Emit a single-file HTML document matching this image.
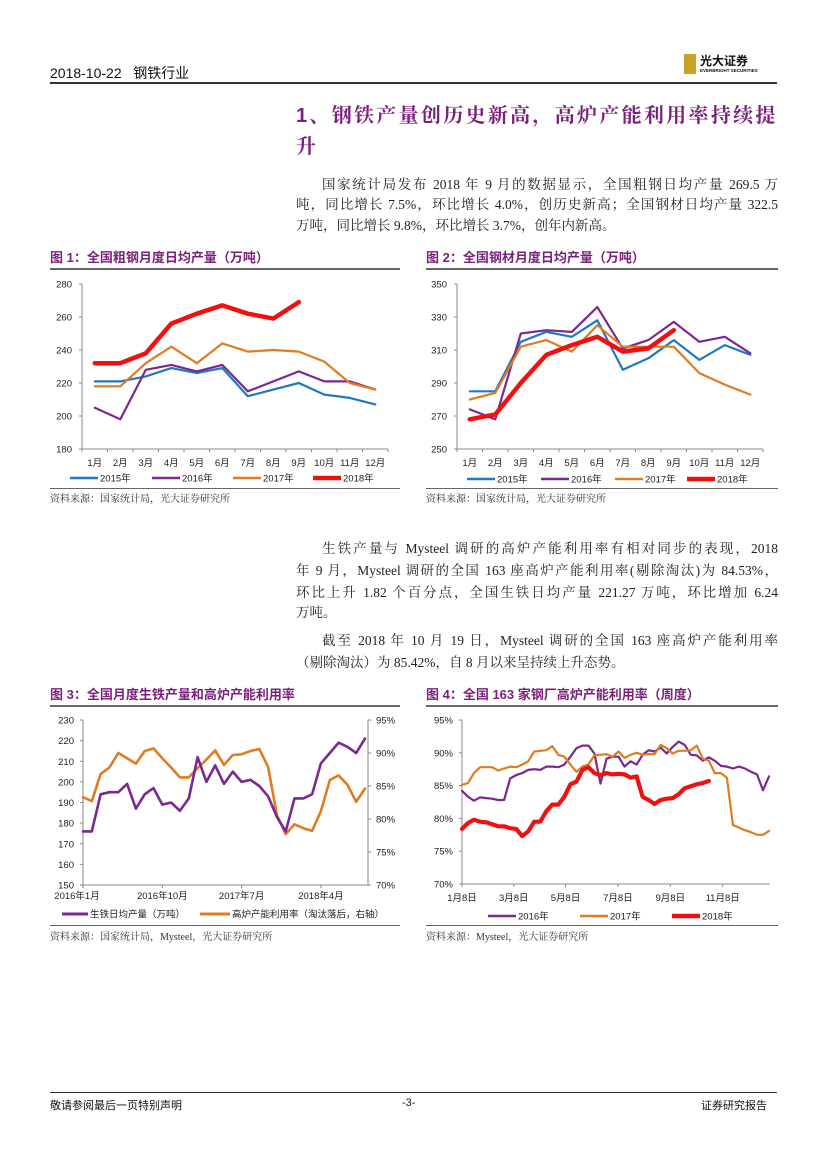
<!DOCTYPE html>
<html><head><meta charset="utf-8">
<style>
body{margin:0;background:#fff;}
#page{position:relative;width:827px;height:1169px;overflow:hidden;font-family:"Liberation Sans","Noto Sans CJK SC",sans-serif;color:#111;}
.abs{position:absolute;white-space:nowrap;}
.ln{position:absolute;left:296px;width:482px;font-family:"Liberation Serif","Noto Serif CJK SC",serif;font-size:13.5px;line-height:20px;color:#222;white-space:nowrap;text-align:justify;text-align-last:justify;}
.ln.last{text-align-last:left;}
.ln.ind{left:322px;width:456px;}
.ft{position:absolute;font-size:13px;font-weight:bold;color:#7a1f7a;font-family:"Liberation Sans","Noto Sans CJK SC",sans-serif;}
.src{position:absolute;font-size:10px;color:#333;font-family:"Liberation Serif","Noto Serif CJK SC",serif;}
.hl{position:absolute;height:2px;background:#666;}
svg text{font-family:"Liberation Sans","Noto Sans CJK SC",sans-serif;font-size:9.5px;fill:#222;}
</style></head><body>
<div id="page">
<div class="abs" style="left:50px;top:63px;font-size:14px;">2018-10-22&nbsp;&nbsp;&nbsp;钢铁行业</div>
<div style="position:absolute;left:684px;top:54px;width:12px;height:20px;background:#c9a227;"></div>
<div class="abs" style="left:700px;top:52px;font-size:12px;font-weight:bold;">光大证券</div>
<div class="abs" style="left:700px;top:68px;font-size:4.5px;font-weight:bold;">EVERBRIGHT SECURITIES</div>
<div style="position:absolute;left:50px;top:82px;width:727px;height:2px;background:#333;"></div>

<div class="abs" style="left:296px;top:101px;font-size:20px;font-weight:bold;color:#7a1f7a;line-height:31px;letter-spacing:2.3px;font-family:'Liberation Sans','Noto Serif CJK SC',serif;">1、钢铁产量创历史新高，高炉产能利用率持续提<br>升</div>

<div>
<div class="ln ind" style="top:175px;">国家统计局发布 2018 年 9 月的数据显示，全国粗钢日均产量 269.5 万</div>
<div class="ln" style="top:195px;">吨，同比增长 7.5%，环比增长 4.0%，创历史新高；全国钢材日均产量 322.5</div>
<div class="ln last" style="top:216px;">万吨，同比增长 9.8%，环比增长 3.7%，创年内新高。</div>
</div>

<div class="ft" style="left:50px;top:247px;">图 1：全国粗钢月度日均产量（万吨）</div>
<div class="ft" style="left:426px;top:247px;">图 2：全国钢材月度日均产量（万吨）</div>
<div class="hl" style="left:50px;top:268px;width:350px;"></div>
<div class="hl" style="left:426px;top:268px;width:352px;"></div>
<svg id="c1" style="position:absolute;left:0;top:0" width="827" height="1169"></svg>
<div class="hl" style="left:50px;top:488px;width:350px;height:1px;"></div>
<div class="hl" style="left:426px;top:488px;width:352px;height:1px;"></div>
<div class="src" style="left:50px;top:490px;">资料来源：国家统计局，光大证券研究所</div>
<div class="src" style="left:426px;top:490px;">资料来源：国家统计局，光大证券研究所</div>

<div>
<div class="ln ind" style="top:539px;">生铁产量与 Mysteel 调研的高炉产能利用率有相对同步的表现，2018</div>
<div class="ln" style="top:561px;">年 9 月，Mysteel 调研的全国 163 座高炉产能利用率(剔除淘汰)为 84.53%，</div>
<div class="ln" style="top:583px;">环比上升 1.82 个百分点，全国生铁日均产量 221.27 万吨，环比增加 6.24</div>
<div class="ln last" style="top:603px;">万吨。</div>
</div>
<div>
<div class="ln ind" style="top:631px;">截至 2018 年 10 月 19 日，Mysteel 调研的全国 163 座高炉产能利用率</div>
<div class="ln last" style="top:653px;">（剔除淘汰）为 85.42%，自 8 月以来呈持续上升态势。</div>
</div>

<div class="ft" style="left:50px;top:684px;">图 3：全国月度生铁产量和高炉产能利用率</div>
<div class="ft" style="left:426px;top:684px;">图 4：全国 163 家钢厂高炉产能利用率（周度）</div>
<div class="hl" style="left:50px;top:705px;width:350px;"></div>
<div class="hl" style="left:426px;top:705px;width:352px;"></div>
<div class="hl" style="left:50px;top:925px;width:350px;height:1px;"></div>
<div class="hl" style="left:426px;top:925px;width:352px;height:1px;"></div>
<div class="src" style="left:50px;top:928px;">资料来源：国家统计局，Mysteel，光大证券研究所</div>
<div class="src" style="left:426px;top:928px;">资料来源：Mysteel，光大证券研究所</div>

<div style="position:absolute;left:50px;top:1092px;width:727px;height:1px;background:#333;"></div>
<div class="abs" style="left:50px;top:1097px;font-size:11px;">敬请参阅最后一页特别声明</div>
<div class="abs" style="left:402px;top:1097px;font-size:11px;">-3-</div>
<div class="abs" style="left:701px;top:1097px;font-size:11px;">证券研究报告</div>
</div>
<script>
const months=["1月","2月","3月","4月","5月","6月","7月","8月","9月","10月","11月","12月"];
const c1Ticks=[180,200,220,240,260,280];
const c1s2015=[221,221,224,229,226,229,212,216,220,213,211,207];
const c1s2016=[205,198,228,231,227,231,215,221,227,221,221,216];
const c1s2017=[218,218,232,242,232,244,239,240,239,233,220,216];
const c1s2018=[232,232,238,256,262,267,262,259,269];
const c2Ticks=[250,270,290,310,330,350];
const c2s2015=[285,285,315,321,318,328,298,305,316,304,313,307];
const c2s2016=[274,268,320,322,321,336,311,316,327,315,318,308];
const c2s2017=[280,284,312,316,309,325,312,312,312,296,289,283];
const c2s2018=[268,271,290,307,313,318,309,311,322];
const c3Ticks=[150,160,170,180,190,200,210,220,230];
const c3RTicks=["70%","75%","80%","85%","90%","95%"];
const c3RVals=[70,75,80,85,90,95];
const c3Labels=["2016年1月","2016年10月","2017年7月","2018年4月"];
const c3LabelIdx=[0,9,18,27];
const c3Iron=[176,176,194,195,195,199,187,194,197,189,190,186,192,212,200,208,199,205,200,201,198,193,183,176,192,192,194,209,214,219,217,214,221];
const c3Util=[83.3,82.7,86.8,87.8,90,89.2,88.4,90.3,90.7,89.2,87.8,86.3,86.3,87.7,89,90.4,88.2,89.7,89.8,90.3,90.6,87.9,80.6,77.7,79.2,78.6,78.2,81.2,85.9,86.6,85.2,82.6,84.6];
const c4Ticks=[70,75,80,85,90,95];
const c4Labels=["1月8日","3月8日","5月8日","7月8日","9月8日","11月8日"];
const c4LabelWeek=[0,8.6,17.2,25.9,34.6,43.3];
const c4s2016=[84.2,83.3,82.7,83.2,83.1,83.0,82.8,82.8,86.1,86.6,86.9,87.4,87.5,87.4,87.9,87.9,87.8,88.2,89.4,90.7,91.1,91.1,89.9,85.3,89.1,89.4,89.4,87.9,88.7,88.2,89.7,90.4,90.2,90.8,89.9,90.9,91.7,91.2,89.7,89.6,88.8,89.3,88.8,88.0,87.9,87.6,87.9,87.6,87.1,86.7,84.3,86.4];
const c4s2017=[85.1,85.4,86.9,87.8,87.8,87.8,87.3,87.6,87.9,87.8,88.2,88.7,90.2,90.3,90.4,91.0,89.7,89.4,88.2,87.1,87.9,88.2,89.6,89.7,89.8,89.4,90.2,89.2,89.7,90.0,89.7,89.8,89.8,91.2,90.7,89.9,90.3,90.3,90.4,91.1,89.1,88.8,86.9,86.9,86.2,79.0,78.6,78.2,77.9,77.5,77.5,78.1];
const c4s2018=[78.4,79.3,79.8,79.5,79.4,79.1,78.8,78.8,78.5,78.4,77.3,78.0,79.5,79.5,81.1,82.1,82.1,83.3,85.2,85.6,87.4,87.8,86.9,86.6,86.9,86.7,86.8,86.7,86.2,86.4,83.3,82.8,82.2,82.8,83.0,83.1,83.7,84.6,84.9,85.2,85.4,85.7];

const NS="http://www.w3.org/2000/svg";
const svg=document.getElementById('c1');
function el(tag,attrs,name){const e=document.createElementNS(NS,tag);for(const k in attrs)e.setAttribute(k,attrs[k]);


svg.appendChild(e);return e;}
function txt(x,y,s,anchor,name){const t=el('text',{x:x,y:y,'text-anchor':anchor},name);t.textContent=s;return t;}
function line(vals,xf,yf,color,w,name){const pts=vals.map((v,i)=>xf(i).toFixed(1)+','+yf(v).toFixed(1)).join(' ');
el('polyline',{points:pts,fill:'none',stroke:color,'stroke-width':w,'stroke-linejoin':'round','stroke-linecap':'round'},name);}
function legend(items,y){items.forEach(it=>{el('line',{x1:it[0],y1:y,x2:it[0]+28,y2:y,stroke:it[2],'stroke-width':it[3]},'legend-swatch');txt(it[0]+30,y+3.5,it[1],'start','legend-entry');});}
const BLUE="#1f78c1",PURPLE="#7b2890",ORANGE="#e07b22",RED="#f01010";

function monthlyChart(x0,x1,yt,yb,ticks,series,name){
 const lo=ticks[0],hi=ticks[ticks.length-1];
 const yf=v=>yb-(v-lo)/(hi-lo)*(yb-yt);
 const sw=(x1-x0)/12;const xf=i=>x0+sw*(i+0.5);
 el('line',{x1:x0,y1:yt,x2:x0,y2:yb,stroke:'#888','stroke-width':1},name+'-y-axis');
 el('line',{x1:x0,y1:yb,x2:x1,y2:yb,stroke:'#888','stroke-width':1},name+'-x-axis');
 ticks.forEach(t=>{el('line',{x1:x0-3,y1:yf(t),x2:x0,y2:yf(t),stroke:'#888'},'y-tick');txt(x0-10,yf(t)+3.5,String(t),'end','y-tick-label');});
 for(let i=0;i<=12;i++)el('line',{x1:x0+sw*i,y1:yb,x2:x0+sw*i,y2:yb+3,stroke:'#888'},'x-tick');
 months.forEach((m,i)=>txt(xf(i),yb+17,m,'middle','x-tick-label'));
 series.forEach(s=>line(s[0],xf,yf,s[1],s[2],s[3]));
}
monthlyChart(82,388,284,449,c1Ticks,[[c1s2015,BLUE,2.2,'line-2015'],[c1s2016,PURPLE,2.2,'line-2016'],[c1s2017,ORANGE,2.2,'line-2017'],[c1s2018,RED,4.5,'line-2018']],'c1');
legend([[70,'2015年',BLUE,2.5],[152,'2016年',PURPLE,2.5],[233,'2017年',ORANGE,2.5],[313,'2018年',RED,4.5]],478);
monthlyChart(457,763,284,449,c2Ticks,[[c2s2015,BLUE,2.2,'line-2015'],[c2s2016,PURPLE,2.2,'line-2016'],[c2s2017,ORANGE,2.2,'line-2017'],[c2s2018,RED,4.5,'line-2018']],'c2');
legend([[467,'2015年',BLUE,2.5],[541,'2016年',PURPLE,2.5],[615,'2017年',ORANGE,2.5],[687,'2018年',RED,4.5]],479);

(function(){
 const x0=83,x1=365,yt=720,yb=885,lo=150,hi=230;
 const yf=v=>yb-(v-lo)/(hi-lo)*(yb-yt);
 const yr=v=>yb-(v-70)/25*(yb-yt);
 const step=(x1-x0)/(c3Iron.length-1);const xf=i=>x0+step*i;
 el('line',{x1:x0,y1:yt,x2:x0,y2:yb,stroke:'#888'},'c3-left-axis');
 el('line',{x1:x0,y1:yb,x2:x1+3,y2:yb,stroke:'#888'},'c3-x-axis');
 el('line',{x1:x1+3,y1:yt,x2:x1+3,y2:yb,stroke:'#888'},'c3-right-axis');
 c3Ticks.forEach(t=>{el('line',{x1:x0-3,y1:yf(t),x2:x0,y2:yf(t),stroke:'#888'},'y-tick');txt(x0-9,yf(t)+3.5,String(t),'end','y-tick-label');});
 c3RVals.forEach((v,i)=>{el('line',{x1:x1+3,y1:yr(v),x2:x1+6,y2:yr(v),stroke:'#888'},'y2-tick');txt(x1+11,yr(v)+3.5,c3RTicks[i],'start','y2-tick-label');});
 c3LabelIdx.forEach((k,i)=>{el('line',{x1:xf(k),y1:yb,x2:xf(k),y2:yb+3,stroke:'#888'},'x-tick');txt(xf(k)+(i==0?-6:0),yb+14,c3Labels[i],'middle','x-tick-label');});
 line(c3Util,xf,yr,ORANGE,2.6,'line-utilization');
 line(c3Iron,xf,yf,PURPLE,2.6,'line-pig-iron');
 el('line',{x1:62,y1:914,x2:88,y2:914,stroke:PURPLE,'stroke-width':3},'legend-swatch');
 txt(90,917.5,'生铁日均产量（万吨）','start','legend-entry');
 el('line',{x1:200,y1:914,x2:230,y2:914,stroke:ORANGE,'stroke-width':3},'legend-swatch');
 const t=txt(232,917.5,'高炉产能利用率（淘汰落后，右轴）','start','legend-entry');t.setAttribute('font-size','8.5');
})();

(function(){
 const x0=462,yt=720,yb=884,xw=6.02;
 const yf=v=>yb-(v-70)/25*(yb-yt);const xf=i=>x0+xw*i;
 el('line',{x1:x0,y1:yt,x2:x0,y2:yb,stroke:'#888'},'c4-y-axis');
 el('line',{x1:x0,y1:yb,x2:770,y2:yb,stroke:'#888'},'c4-x-axis');
 c4Ticks.forEach(t=>{el('line',{x1:x0-3,y1:yf(t),x2:x0,y2:yf(t),stroke:'#888'},'y-tick');txt(x0-9,yf(t)+3.5,t+'%','end','y-tick-label');});
 c4LabelWeek.forEach((w,i)=>{el('line',{x1:xf(w),y1:yb,x2:xf(w),y2:yb+3,stroke:'#888'},'x-tick');txt(xf(w),yb+17,c4Labels[i],'middle','x-tick-label');});
 line(c4s2016,xf,yf,PURPLE,2.2,'line-2016');
 line(c4s2017,xf,yf,ORANGE,2.2,'line-2017');
 line(c4s2018,xf,yf,RED,4.2,'line-2018');
 legend([[488,'2016年',PURPLE,2.5],[580,'2017年',ORANGE,2.5],[672,'2018年',RED,4.5]],916);
})();
</script>
</body></html>
